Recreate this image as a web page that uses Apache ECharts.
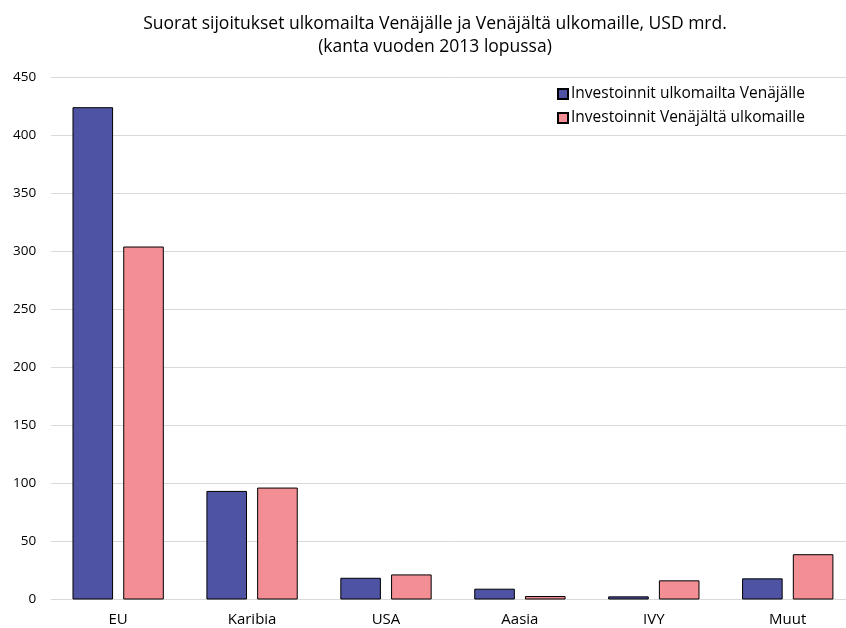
<!DOCTYPE html>
<html><head><meta charset="utf-8">
<script src="https://cdn.jsdelivr.net/npm/echarts@6/dist/echarts.min.js"></script>
<style>html,body{margin:0;padding:0;background:#fff}#c{width:846px;height:628px}</style>
</head><body><div id="c"></div>
<script>
const categories = ['EU','Karibia','USA','Aasia','IVY','Muut'];
const seriesNames = ['Investoinnit ulkomailta Venäjälle','Investoinnit Venäjältä ulkomaille'];
const inward = [424, 93.5, 18.7, 9.3, 2.7, 18.2];
const outward = [304, 96.4, 21.6, 3, 16.5, 39];
const titleLines = ['Suorat sijoitukset ulkomailta Venäjälle ja Venäjältä ulkomaille, USD mrd.','(kanta vuoden 2013 lopussa)'];

const font = '"Open Sans", sans-serif';
const chart = echarts.init(document.getElementById('c'), null, {renderer:'canvas'});
chart.setOption({
  animation:false,
  textStyle:{fontFamily:font},
  title:{text:titleLines.join('\n'), left:430, textAlign:'center', top:8,
    textStyle:{fontFamily:font, fontSize:17.5, fontWeight:'normal', color:'#000', lineHeight:23, align:'center'}},
  legend:{orient:'vertical', left:552, top:80.5, itemWidth:10, itemHeight:10, itemGap:7,
    icon:'rect', textStyle:{fontFamily:font, fontSize:15.5, lineHeight:17, color:'#000', padding:[0,0,0,-2]},
    data:seriesNames},
  grid:{left:51.2, width:803.5, top:77, bottom:28.5, containLabel:false, outerBoundsMode:'none'},
  xAxis:{type:'category', data:categories,
    axisLine:{lineStyle:{color:'#d9d9d9', width:1}}, axisTick:{show:false},
    axisLabel:{color:'#000', fontSize:15, fontFamily:font, margin:13}},
  yAxis:{type:'value', min:0, max:450, interval:50,
    axisLine:{show:false}, axisTick:{show:false},
    splitLine:{lineStyle:{color:'#d9d9d9', width:1}},
    axisLabel:{color:'#000', fontSize:13.5, fontFamily:font, margin:15}},
  series:[
    {name:seriesNames[0], type:'bar', data:inward, barGap:'25%', barCategoryGap:'31.8%',
      itemStyle:{color:'#4F53A3', borderColor:'#000', borderWidth:1}},
    {name:seriesNames[1], type:'bar', data:outward,
      itemStyle:{color:'#F28E94', borderColor:'#000', borderWidth:1}}
  ]
});
</script></body></html>
